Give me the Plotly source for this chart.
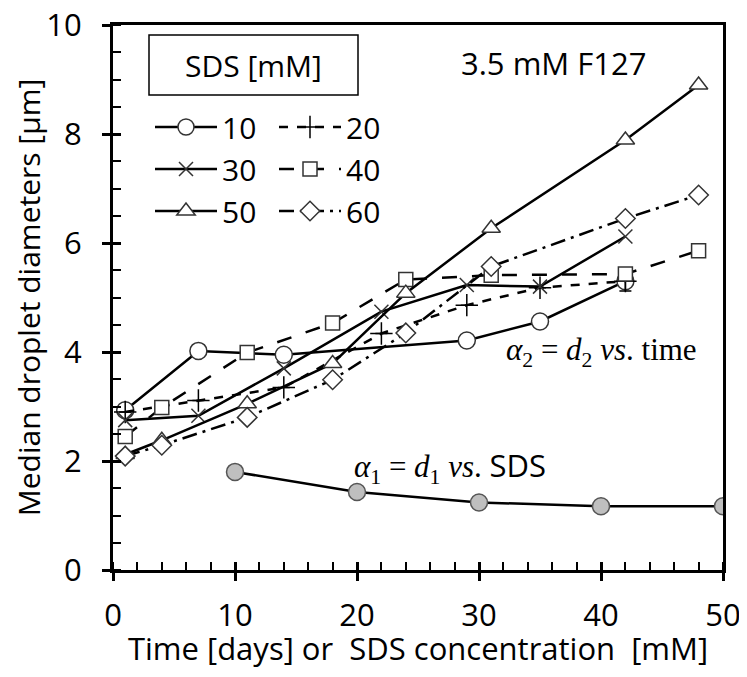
import plotly.graph_objects as go

# ---- data ----
days_10 = [1, 7, 14, 29, 35, 42]
d_10 = [2.93, 4.02, 3.95, 4.21, 4.56, 5.30]

days_20 = [1, 7, 14, 22, 29, 35, 42]
d_20 = [2.90, 3.11, 3.35, 4.34, 4.86, 5.18, 5.30]
err_20_minus = [None, None, None, None, None, None, 0.18]

days_30 = [1, 7, 14, 22, 29, 35, 42]
d_30 = [2.75, 2.83, 3.70, 4.74, 5.23, 5.20, 6.12]

days_40 = [1, 4, 11, 18, 24, 31, 42, 48]
d_40 = [2.45, 2.98, 3.99, 4.53, 5.33, 5.41, 5.43, 5.86]

days_50 = [1, 4, 11, 18, 24, 31, 42, 48]
d_50 = [2.12, 2.38, 3.05, 3.79, 5.08, 6.27, 7.89, 8.90]

days_60 = [1, 4, 11, 18, 24, 31, 42, 48]
d_60 = [2.09, 2.29, 2.80, 3.49, 4.35, 5.57, 6.45, 6.88]

sds_conc = [10, 20, 30, 40, 50]
d1_sds = [1.80, 1.43, 1.24, 1.17, 1.17]

series_names = ["10", "20", "30", "40", "50", "60"]
x_ticks = [0, 10, 20, 30, 40, 50]
y_ticks = [0, 2, 4, 6, 8, 10]

SANS = "Open Sans"
SERIF = "Liberation Serif"
FS = 30

# The page body has an 8px default margin, so the figure is drawn 8px in
# from the window's top-left corner; size it so that it fits exactly.
OFF = 8
FIG_W, FIG_H = 747 - 2 * OFF, 677 - 2 * OFF
# plot-area geometry in window pixels (as in the reference)
L, R, T, B = 113, 723, 25, 570
W, H = R - L, B - T

def px_x(px):
    return (px - L) / W

def px_y(py):
    return (B - py) / H

fig = go.Figure()

def add_series(x, y, name, symbol, dash, size, legend, fill="white",
               mline="#333333", err=None):
    kw = {}
    if err is not None:
        kw["error_y"] = dict(type="data", symmetric=False,
                             array=[0 if e is not None else None for e in err],
                             arrayminus=err, color="black", thickness=1.5, width=6)
    fig.add_trace(go.Scatter(
        x=x, y=y, name=name, mode="lines+markers",
        line=dict(color="black", width=2.5, dash=dash),
        marker=dict(symbol=symbol, size=size, color=fill,
                    line=dict(color=mline, width=1.5)),
        legend=legend, **kw))

add_series(days_10, d_10, series_names[0], "circle", "solid", 17, "legend")
add_series(days_20, d_20, series_names[1], "cross-thin", "dash", 16, "legend2",
           fill="black", mline="black", err=err_20_minus)
add_series(days_30, d_30, series_names[2], "x-thin", "solid", 14, "legend",
           fill="#333333", mline="#333333")
add_series(days_40, d_40, series_names[3], "square", "longdash", 14, "legend2")
add_series(days_50, d_50, series_names[4], "triangle-up", "solid", 16, "legend")
add_series(days_60, d_60, series_names[5], "diamond", "longdashdot", 15, "legend2")

fig.add_trace(go.Scatter(
    x=sds_conc, y=d1_sds, mode="lines+markers", showlegend=False,
    line=dict(color="black", width=2.5),
    marker=dict(symbol="circle", size=17, color="#bfbfbf",
                line=dict(color="#555555", width=1.5)),
    xaxis="x2", yaxis="y2"))

axis_common = dict(showgrid=False, zeroline=False, linecolor="black",
                   linewidth=3, tickcolor="black", tickwidth=2.5, ticklen=8,
                   automargin=False, ticklabeloverflow="allow")

fig.update_layout(
    width=FIG_W, height=FIG_H,
    margin=dict(l=L - OFF, r=FIG_W - (R - OFF), t=T - OFF, b=FIG_H - (B - OFF)),
    plot_bgcolor="white", paper_bgcolor="white",
    font=dict(family=SANS, size=FS, color="black"),
    xaxis=dict(range=[0, 50], tickvals=x_ticks, ticks="outside", mirror=True,
               ticklabelstandoff=8, tickfont=dict(size=31),
               title=dict(text="Time [days] or\u00a0 SDS concentration\u00a0 [mM]",
                          font=dict(size=31), standoff=10),
               minor=dict(dtick=2, ticks="inside", ticklen=8, tickwidth=2,
                          tickcolor="black"),
               **axis_common),
    yaxis=dict(range=[0, 10], tickvals=y_ticks, ticks="outside", mirror=True,
               ticklabelstandoff=14, tickfont=dict(size=31),
               title=dict(text="Median droplet diameters [µm]",
                          font=dict(size=FS), standoff=2),
               minor=dict(dtick=0.5, ticks="inside", ticklen=8, tickwidth=2,
                          tickcolor="black"),
               **axis_common),
    xaxis2=dict(range=[0, 50], tickvals=x_ticks, ticks="inside", overlaying="x",
                anchor="y2", showticklabels=False, showline=False,
                showgrid=False, zeroline=False, tickcolor="black",
                tickwidth=2.5, ticklen=8),
    yaxis2=dict(range=[0, 10], tickvals=y_ticks, ticks="inside", overlaying="y",
                anchor="x2", showticklabels=False, showline=False,
                showgrid=False, zeroline=False, tickcolor="black",
                tickwidth=2.5, ticklen=8),
    legend=dict(x=px_x(150), y=px_y(101), xanchor="left", yanchor="top",
                orientation="v", itemwidth=62, bgcolor="rgba(0,0,0,0)",
                font=dict(size=FS), tracegroupgap=0),
    legend2=dict(x=px_x(274), y=px_y(101), xanchor="left", yanchor="top",
                 orientation="v", itemwidth=62, bgcolor="rgba(0,0,0,0)",
                 font=dict(size=FS), tracegroupgap=0),
)

# legend title box
fig.add_shape(type="rect", xref="paper", yref="paper",
              x0=px_x(149), x1=px_x(358), y0=px_y(95), y1=px_y(35),
              line=dict(color="black", width=1.5), fillcolor="white")
fig.add_annotation(xref="paper", yref="paper", x=px_x(253), y=px_y(65),
                   xanchor="center", yanchor="middle",
                   text="SDS [mM]", showarrow=False, font=dict(size=FS))

fig.add_annotation(x=36.1, y=9.3, xanchor="center", yanchor="middle",
                   text="3.5 mM F127", showarrow=False, font=dict(size=31))
fig.add_annotation(x=40.0, y=4.0, xanchor="center", yanchor="middle",
                   text="<i>α</i><sub>2</sub> = <i>d</i><sub>2</sub> <i>vs</i>. time",
                   showarrow=False, font=dict(family=SERIF, size=31))
fig.add_annotation(x=27.6, y=1.9, xanchor="center", yanchor="middle",
                   text="<i>α</i><sub>1</sub> = <i>d</i><sub>1</sub> <i>vs</i>. <span style='font-family:Open Sans'>SDS</span>",
                   showarrow=False, font=dict(family=SERIF, size=31))

fig.write_html("out.html")
